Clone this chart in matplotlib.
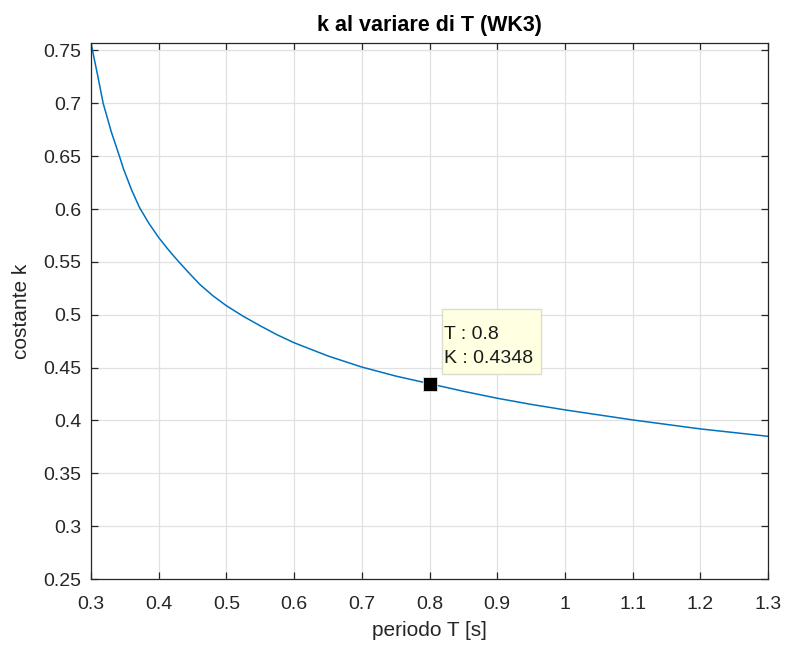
import matplotlib
matplotlib.use("Agg")
from matplotlib import pyplot as plt
from matplotlib.patches import Rectangle

# values
periodo = [0.300, 0.310, 0.318, 0.330, 0.342, 0.348, 0.360, 0.372, 0.386, 0.400, 0.413,
           0.427, 0.444, 0.461, 0.480, 0.500, 0.525, 0.550, 0.575, 0.600, 0.650, 0.700,
           0.750, 0.800, 0.850, 0.900, 0.950, 1.000, 1.100, 1.200, 1.300]
costante = [0.757, 0.726, 0.700, 0.673, 0.650, 0.638, 0.618, 0.601, 0.586, 0.573, 0.5625,
            0.552, 0.540, 0.5285, 0.5180, 0.5085, 0.4985, 0.4895, 0.481, 0.4735, 0.461, 0.4505,
            0.442, 0.4348, 0.4276, 0.421, 0.4152, 0.410, 0.4005, 0.392, 0.385]

sel_T = 0.8
sel_K = 0.4348

xticks = [0.3, 0.4, 0.5, 0.6, 0.7, 0.8, 0.9, 1.0, 1.1, 1.2, 1.3]
xticklabels = ["0.3", "0.4", "0.5", "0.6", "0.7", "0.8", "0.9", "1", "1.1", "1.2", "1.3"]
yticks = [0.25, 0.3, 0.35, 0.4, 0.45, 0.5, 0.55, 0.6, 0.65, 0.7, 0.75]
yticklabels = ["0.25", "0.3", "0.35", "0.4", "0.45", "0.5", "0.55", "0.6", "0.65", "0.7", "0.75"]

plt.rcParams['font.family'] = ['Liberation Sans', 'DejaVu Sans']
dark = '#262626'

fig = plt.figure(figsize=(7.87, 6.5), dpi=100)
ax = fig.add_axes([0.1156, 0.1092, 0.8603, 0.8246])

ax.plot(periodo, costante, color='#0072BD', linewidth=1.1)
ax.plot([sel_T], [sel_K], marker='s', markersize=10, color='black',
        markeredgecolor='#e8e8c0', markeredgewidth=0.6, zorder=5)

# data tip box
ax.add_patch(Rectangle((0.818, 0.4441), 0.1467, 0.0613, facecolor='#ffffe1',
                       edgecolor='#dcdccc', linewidth=1, zorder=6))
ax.text(0.8214, 0.477, f"T : {sel_T}", fontsize=14, color='#1a1a1a',
        va='baseline', ha='left', zorder=7)
ax.text(0.8214, 0.4543, f"K : {sel_K}", fontsize=14, color='#1a1a1a',
        va='baseline', ha='left', zorder=7)

ax.set_xlim(0.3, 1.3)
ax.set_ylim(0.25, 0.757)
ax.set_xticks(xticks)
ax.set_xticklabels(xticklabels)
ax.set_yticks(yticks)
ax.set_yticklabels(yticklabels)

ax.grid(True, color='#e1e1e1', linewidth=0.9)
ax.set_axisbelow(True)
ax.tick_params(direction='in', length=5, width=0.9, colors=dark, labelsize=14,
               top=True, right=True)
ax.tick_params(axis='y', pad=7)
ax.tick_params(axis='x', pad=12)
for s in ax.spines.values():
    s.set_color(dark)
    s.set_linewidth(0.9)

ax.set_title("k al variare di T (WK3)", fontsize=15.5, fontweight='bold', color='black', pad=9)
ax.set_xlabel("periodo T [s]", fontsize=15, color=dark, labelpad=6)
ax.set_ylabel("costante k", fontsize=15, color=dark, labelpad=9)

plt.savefig("out.png", dpi=100)
